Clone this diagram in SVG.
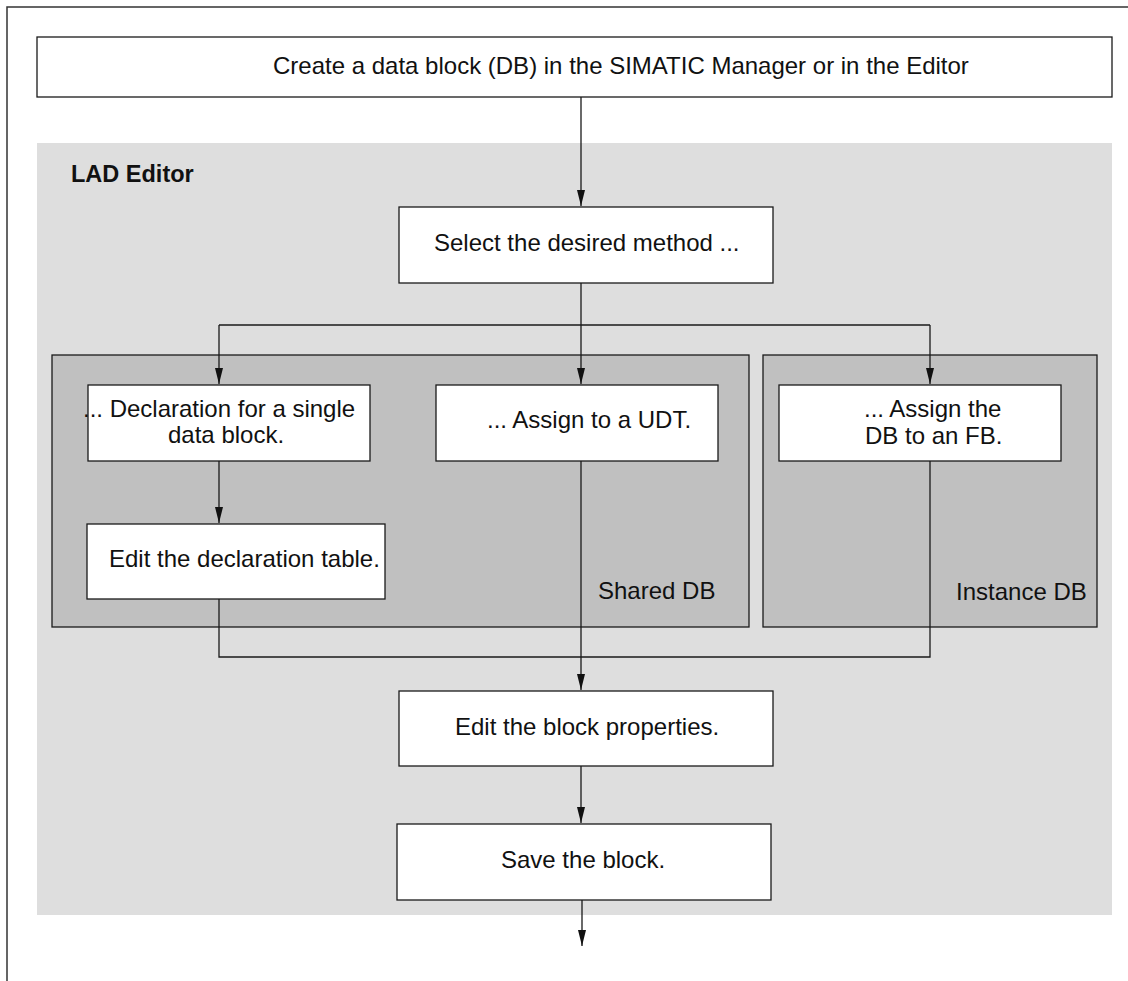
<svg xmlns="http://www.w3.org/2000/svg" width="1128" height="981" viewBox="0 0 1128 981">
  <style>
    .box { fill: #ffffff; stroke: #1a1a1a; stroke-width: 1.3; }
    .area { fill: #dedede; }
    .group { fill: #c0c0c0; stroke: #1a1a1a; stroke-width: 1.3; }
    .t { font-family: "Liberation Sans", Arial, sans-serif; font-size: 24px; fill: #111111; }
    .b { font-weight: bold; font-size: 23.5px; }
    .wire { fill: none; stroke: #1a1a1a; stroke-width: 1.3; }
    .frame { fill: none; stroke: #333333; stroke-width: 1.5; }
  </style>
  <defs>
    <!-- narrow filled arrowhead, tip sits on the line end -->
    <marker id="arrow" markerUnits="userSpaceOnUse" markerWidth="16" markerHeight="9" refX="16" refY="4.5" viewBox="0 0 16 9" orient="auto">
      <path d="M0,0.5 L16,4.5 L0,8.5 Z" fill="#111111"/>
    </marker>
  </defs>

  <!-- page frame -->
  <path class="frame" d="M7,981 V7 H1128"/>

  <!-- editor area and the two DB groups -->
  <g id="lad-editor">
    <rect class="area" x="37" y="143" width="1075" height="772"/>
    <text class="t b" x="71" y="182">LAD Editor</text>
  </g>
  <g id="shared-db">
    <rect class="group" x="52" y="355" width="697" height="272"/>
    <text class="t" x="598" y="599">Shared DB</text>
  </g>
  <g id="instance-db">
    <rect class="group" x="763" y="355" width="334" height="272"/>
    <text class="t" x="956" y="600">Instance DB</text>
  </g>

  <!-- connectors -->
  <g id="connectors">
    <path class="wire" d="M581,97 V206" marker-end="url(#arrow)"/>
    <path class="wire" d="M581,283 V325 M219,325 H930"/>
    <path class="wire" d="M219,325 V384" marker-end="url(#arrow)"/>
    <path class="wire" d="M581,325 V384" marker-end="url(#arrow)"/>
    <path class="wire" d="M930,325 V384" marker-end="url(#arrow)"/>
    <path class="wire" d="M219,461 V523" marker-end="url(#arrow)"/>
    <path class="wire" d="M219,599 V657 H930 V461"/>
    <path class="wire" d="M581,461 V690" marker-end="url(#arrow)"/>
    <path class="wire" d="M581,766 V823" marker-end="url(#arrow)"/>
    <path class="wire" d="M582,900 V946" marker-end="url(#arrow)"/>
  </g>

  <!-- steps -->
  <g id="create-db">
    <rect class="box" x="37" y="37" width="1075" height="60"/>
    <text class="t" x="273" y="74">Create a data block (DB) in the SIMATIC Manager or in the Editor</text>
  </g>
  <g id="select-method">
    <rect class="box" x="399" y="207" width="374" height="76"/>
    <text class="t" x="434" y="251">Select the desired method ...</text>
  </g>
  <g id="declaration">
    <rect class="box" x="88" y="385" width="282" height="76"/>
    <text class="t" x="83" y="417">... Declaration for a single</text>
    <text class="t" x="168" y="443">data block.</text>
  </g>
  <g id="assign-udt">
    <rect class="box" x="436" y="385" width="282" height="76"/>
    <text class="t" x="487" y="428">... Assign to a UDT.</text>
  </g>
  <g id="assign-fb">
    <rect class="box" x="779" y="385" width="282" height="76"/>
    <text class="t" x="864" y="417">... Assign the</text>
    <text class="t" x="865" y="444">DB to an FB.</text>
  </g>
  <g id="edit-declaration">
    <rect class="box" x="87" y="524" width="298" height="75"/>
    <text class="t" x="109" y="567">Edit the declaration table.</text>
  </g>
  <g id="edit-properties">
    <rect class="box" x="399" y="691" width="374" height="75"/>
    <text class="t" x="455" y="735">Edit the block properties.</text>
  </g>
  <g id="save-block">
    <rect class="box" x="397" y="824" width="374" height="76"/>
    <text class="t" x="501" y="868">Save the block.</text>
  </g>
</svg>
